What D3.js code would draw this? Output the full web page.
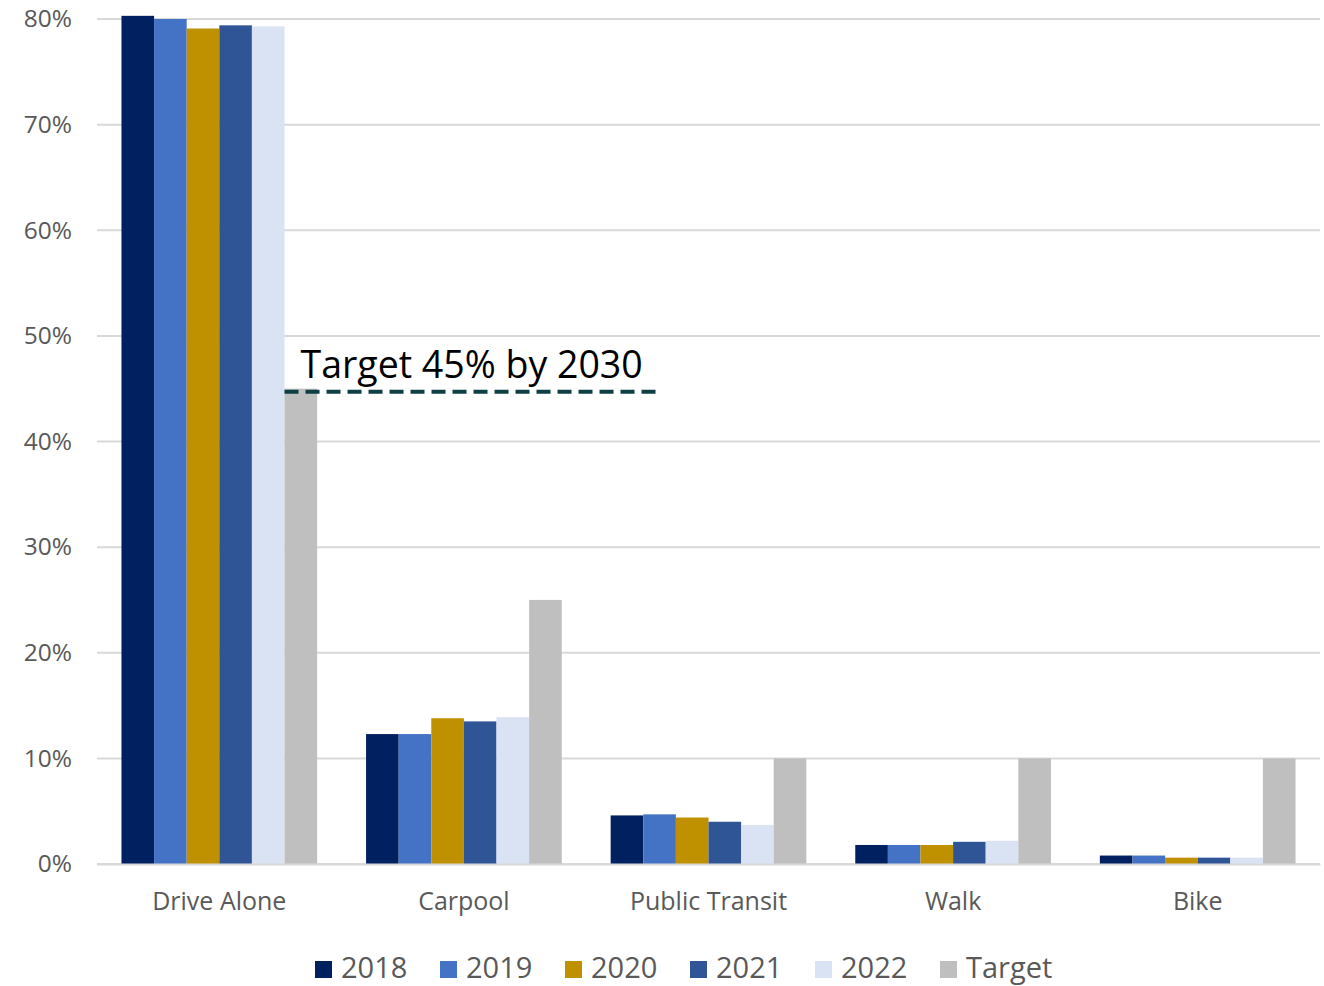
<!DOCTYPE html>
<html>
<head>
<meta charset="utf-8">
<script src="https://cdn.jsdelivr.net/npm/d3@7"></script>
<style>
  body { margin: 0; background: #fff; }
  text { font-family: "Open Sans", sans-serif; }
</style>
</head>
<body>
<svg id="chart" width="1324" height="986"></svg>
<script>
const categories = ["Drive Alone", "Carpool", "Public Transit", "Walk", "Bike"];
const seriesNames = ["2018", "2019", "2020", "2021", "2022", "Target"];
const v2018 = [80.3, 12.3, 4.6, 1.8, 0.8];
const v2019 = [80.0, 12.3, 4.7, 1.8, 0.8];
const v2020 = [79.1, 13.8, 4.4, 1.8, 0.6];
const v2021 = [79.4, 13.5, 4.0, 2.1, 0.6];
const v2022 = [79.3, 13.9, 3.7, 2.2, 0.6];
const vTarget = [45, 25, 10, 10, 10];
const yTicks = [0, 10, 20, 30, 40, 50, 60, 70, 80];
const annotation = "Target 45% by 2030";
const annotationValue = 45;

const colors = ["#002060", "#4472C4", "#BF9000", "#2F5597", "#DAE3F3", "#BFBFBF"];
const values = [v2018, v2019, v2020, v2021, v2022, vTarget];

const svg = d3.select("#chart");
const width = 1324, height = 986;
const margin = { top: 19, right: 4, bottom: 122, left: 97 };

const x0 = d3.scaleBand()
  .domain(categories)
  .range([margin.left, width - margin.right])
  .paddingInner(0.2)
  .paddingOuter(0.1);

const x1 = d3.scaleBand()
  .domain(seriesNames)
  .range([0, x0.bandwidth()]);

const y = d3.scaleLinear()
  .domain([0, 80])
  .range([height - margin.bottom, margin.top]);

// gridlines
svg.append("g")
  .selectAll("line")
  .data(yTicks)
  .join("line")
  .attr("x1", margin.left)
  .attr("x2", width - margin.right)
  .attr("y1", d => y(d))
  .attr("y2", d => y(d))
  .attr("stroke", "#D9D9D9")
  .attr("stroke-width", 2);

// y axis labels
const yAxis = svg.append("g")
  .attr("transform", `translate(${margin.left},0)`)
  .call(d3.axisLeft(y).tickValues(yTicks).tickFormat(d => d + "%").tickSize(0).tickPadding(25));
yAxis.select(".domain").remove();
yAxis.selectAll("text")
  .attr("fill", "#595959")
  .style("font-size", "24.5px");

// bars
const groups = svg.append("g")
  .selectAll("g")
  .data(categories)
  .join("g")
  .attr("transform", d => `translate(${x0(d)},0)`);

groups.selectAll("rect")
  .data((c, i) => seriesNames.map((s, j) => ({ s, v: values[j][i], c: colors[j] })))
  .join("rect")
  .attr("x", d => x1(d.s))
  .attr("width", x1.bandwidth())
  .attr("y", d => y(d.v))
  .attr("height", d => y(0) - y(d.v))
  .attr("fill", d => d.c);

// x axis
const xAxis = svg.append("g")
  .attr("transform", `translate(0,${y(0)})`)
  .call(d3.axisBottom(x0).tickSize(0).tickPadding(28));
xAxis.select(".domain").attr("stroke", "#D9D9D9").attr("stroke-width", 2);
xAxis.selectAll("text")
  .attr("fill", "#595959")
  .style("font-size", "25px");

// target annotation
const lx = x0(categories[0]) + x1("Target");
const ly = y(annotationValue) + 3;
svg.append("line")
  .attr("x1", lx)
  .attr("x2", lx + 375)
  .attr("y1", ly)
  .attr("y2", ly)
  .attr("stroke", "#0E3F45")
  .attr("stroke-width", 4)
  .attr("stroke-dasharray", "14,7");
svg.append("text")
  .attr("x", lx + 16)
  .attr("y", ly - 14)
  .attr("fill", "#000")
  .style("font-size", "37.5px")
  .text(annotation);

// legend
const legend = svg.append("g")
  .selectAll("g")
  .data(seriesNames)
  .join("g")
  .attr("transform", (d, i) => `translate(${315 + i * 125},961)`);
legend.append("rect")
  .attr("width", 17)
  .attr("height", 17)
  .attr("fill", (d, i) => colors[i]);
legend.append("text")
  .attr("x", 26)
  .attr("y", 17)
  .attr("fill", "#595959")
  .style("font-size", "29px")
  .text(d => d);
</script>
</body>
</html>
